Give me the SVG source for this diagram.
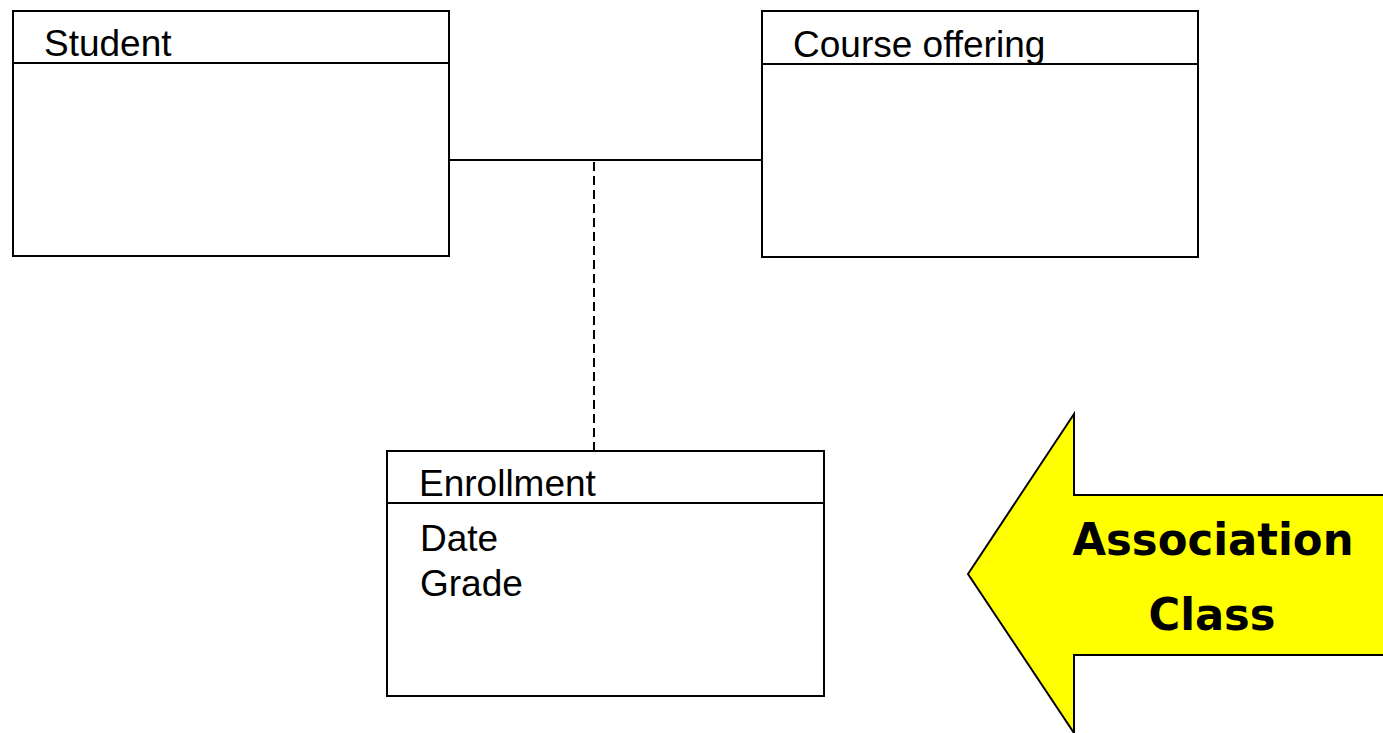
<svg xmlns="http://www.w3.org/2000/svg" width="1383" height="733" viewBox="0 0 1383 733">
  <style>
    .box { fill: #ffffff; stroke: #000000; stroke-width: 2; }
    .div { stroke: #000000; stroke-width: 2; }
    .lbl { font-family: "Liberation Sans", Arial, sans-serif; font-size: 37px; fill: #000000; }
    .assoc { stroke: #000000; stroke-width: 2; fill: none; }
    .dash { stroke: #000000; stroke-width: 2; stroke-dasharray: 9 5; fill: none; }
    .callout { fill: #ffff00; stroke: #000000; stroke-width: 2; }
    .ctext { font-family: "DejaVu Sans", "Liberation Sans", sans-serif; font-weight: bold; font-size: 44px; fill: #000000; text-anchor: middle; }
  </style>
  <rect width="1383" height="733" fill="#ffffff"/>
  <g id="connectors">
    <line class="assoc" x1="449" y1="160" x2="762" y2="160"/>
    <line class="dash" x1="594" y1="162" x2="594" y2="451"/>
  </g>
  <g id="student">
    <rect class="box" x="13" y="11" width="436" height="245"/>
    <line class="div" x1="13" y1="63" x2="449" y2="63"/>
    <text class="lbl" x="44" y="56">Student</text>
  </g>
  <g id="course-offering">
    <rect class="box" x="762" y="11" width="436" height="246"/>
    <line class="div" x1="762" y1="64" x2="1198" y2="64"/>
    <text class="lbl" x="793" y="57">Course offering</text>
  </g>
  <g id="enrollment">
    <rect class="box" x="387" y="451" width="437" height="245"/>
    <line class="div" x1="387" y1="503" x2="824" y2="503"/>
    <text class="lbl" x="419" y="496">Enrollment</text>
    <text class="lbl" x="420" y="551">Date</text>
    <text class="lbl" x="420" y="596">Grade</text>
  </g>
  <g id="association-class-callout">
    <polygon class="callout" points="968,574 1074,414 1074,495 1384,495 1384,655 1074,655 1074,733"/>
    <text class="ctext" x="1213" y="555" textLength="281" lengthAdjust="spacingAndGlyphs">Association</text>
    <text class="ctext" x="1212" y="630" textLength="127" lengthAdjust="spacingAndGlyphs">Class</text>
  </g>
</svg>
